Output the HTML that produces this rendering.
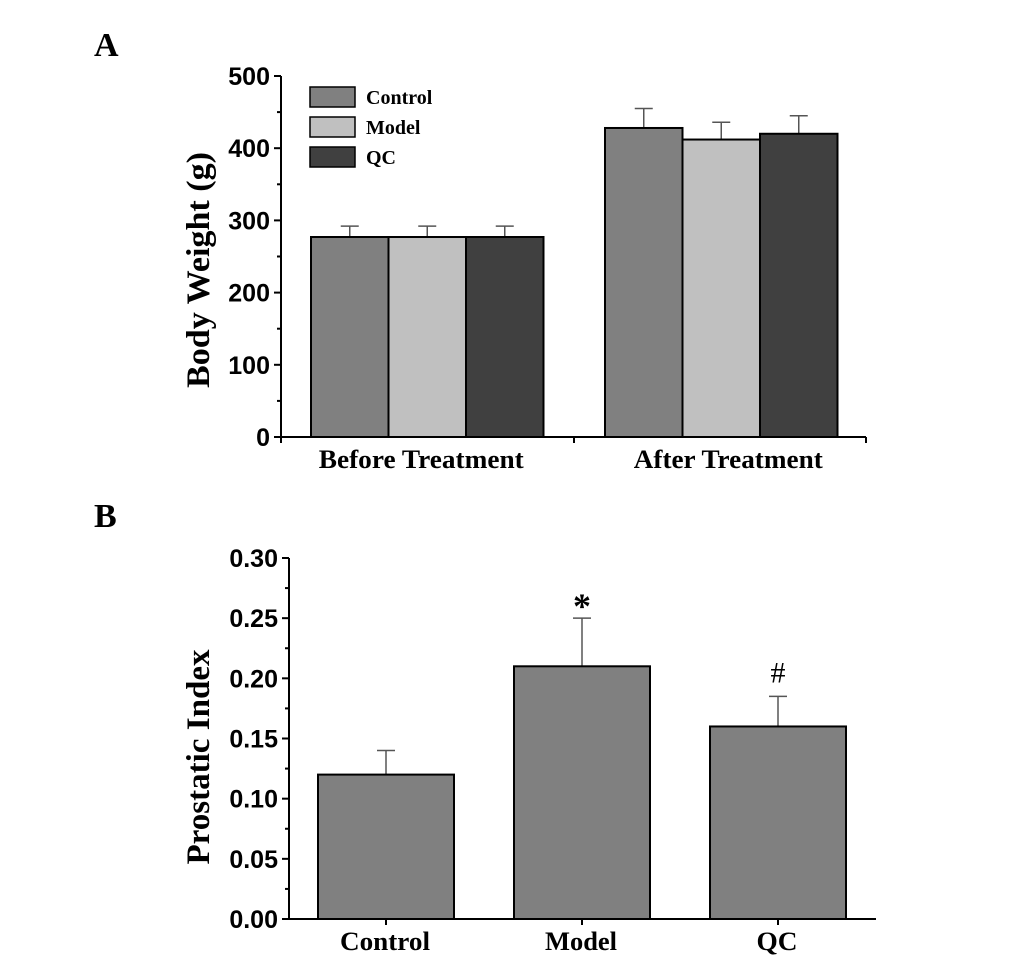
<!DOCTYPE html>
<html><head><meta charset="utf-8"><style>body{margin:0;background:#fff}svg{display:block}</style></head>
<body>
<svg id="s" width="1033" height="962" xmlns="http://www.w3.org/2000/svg">
<text x="94" y="56" font-family="Liberation Serif" font-weight="bold" font-size="34">A</text>
<text x="94" y="527" font-family="Liberation Serif" font-weight="bold" font-size="34">B</text>
<g id="ga"></g>
<g id="gb"></g>
</svg>
<script>
const aGroups=["Before Treatment","After Treatment"];
const aSeries=["Control","Model","QC"];
const aColors=["#808080","#c0c0c0","#404040"];
const aValues=[[277,277,277],[428,412,420]];
const aErrors=[[15,15,15],[27,24,25]];
const aTicks=[0,100,200,300,400,500];
const bCats=["Control","Model","QC"];
const bValues=[0.12,0.21,0.16];
const bErrors=[0.02,0.04,0.025];
const bMarks=["","*","#"];
const bTicks=["0.00","0.05","0.10","0.15","0.20","0.25","0.30"];
const NS="http://www.w3.org/2000/svg";
function mk(p,t,a){const e=document.createElementNS(NS,t);for(const k in a)e.setAttribute(k,a[k]);p.appendChild(e);return e;}
const ga=document.getElementById('ga'),gb=document.getElementById('gb');
const EC='#555';
// chart A
const ay=v=>437-v*(361/500);
const ax0=281;
let e=mk(ga,'line',{x1:ax0,y1:ay(500),x2:ax0,y2:437,stroke:'#000','stroke-width':2});

e=mk(ga,'line',{x1:ax0,y1:437,x2:866,y2:437,stroke:'#000','stroke-width':2});

aTicks.forEach(t=>{
 mk(ga,'line',{x1:ax0-7,y1:ay(t),x2:ax0,y2:ay(t),stroke:'#000','stroke-width':2});
 if(t<500)mk(ga,'line',{x1:ax0-4,y1:ay(t+50),x2:ax0,y2:ay(t+50),stroke:'#000','stroke-width':2});
 e=mk(ga,'text',{x:ax0-11,y:ay(t)+9,'text-anchor':'end','font-family':'Liberation Sans','font-weight':'bold','font-size':25});
 e.textContent=t;
});
[281,574,866].forEach(x=>mk(ga,'line',{x1:x,y1:437,x2:x,y2:443,stroke:'#000','stroke-width':2}));
e=mk(ga,'text',{x:0,y:0,transform:'translate(209,270) rotate(-90)','text-anchor':'middle','font-family':'Liberation Serif','font-weight':'bold','font-size':33,textLength:236,lengthAdjust:'spacingAndGlyphs'});
e.textContent='Body Weight (g)';
const aStart=[311,605],bw=77.5;
const aLabW=[205,189];
aGroups.forEach((g,gi)=>{
 aSeries.forEach((s,si)=>{
  const x=aStart[gi]+si*bw,v=aValues[gi][si],er=aErrors[gi][si],cx=x+bw/2;
  mk(ga,'line',{x1:cx,y1:ay(v),x2:cx,y2:ay(v+er),stroke:EC,'stroke-width':1.5});
  mk(ga,'line',{x1:cx-9,y1:ay(v+er),x2:cx+9,y2:ay(v+er),stroke:EC,'stroke-width':1.5});
  e=mk(ga,'rect',{x:x,y:ay(v),width:bw,height:437-ay(v),fill:aColors[si],stroke:'#000','stroke-width':2});
  
 });
 e=mk(ga,'text',{x:aStart[gi]+bw*1.5+(gi?7:-6),y:468,'text-anchor':'middle','font-family':'Liberation Serif','font-weight':'bold','font-size':26,textLength:aLabW[gi],lengthAdjust:'spacingAndGlyphs'});
 e.textContent=g;
});
aSeries.forEach((s,si)=>{
 const y=87+si*30;
 e=mk(ga,'rect',{x:310,y:y,width:45,height:20,fill:aColors[si],stroke:'#000','stroke-width':1.5});
 
 e=mk(ga,'text',{x:366,y:y+17,'font-family':'Liberation Serif','font-weight':'bold','font-size':20});
 e.textContent=s;
});
// chart B
const by=v=>919-v*(361/0.30);
const bx0=289;
e=mk(gb,'line',{x1:bx0,y1:by(0.30),x2:bx0,y2:919,stroke:'#000','stroke-width':2});

e=mk(gb,'line',{x1:bx0,y1:919,x2:876,y2:919,stroke:'#000','stroke-width':2});

bTicks.forEach((t,i)=>{
 const v=parseFloat(t);
 mk(gb,'line',{x1:bx0-7,y1:by(v),x2:bx0,y2:by(v),stroke:'#000','stroke-width':2});
 if(i<bTicks.length-1)mk(gb,'line',{x1:bx0-4,y1:by(v+0.025),x2:bx0,y2:by(v+0.025),stroke:'#000','stroke-width':2});
 e=mk(gb,'text',{x:bx0-11,y:by(v)+9,'text-anchor':'end','font-family':'Liberation Sans','font-weight':'bold','font-size':25});
 e.textContent=t;
});
e=mk(gb,'text',{x:0,y:0,transform:'translate(209,757) rotate(-90)','text-anchor':'middle','font-family':'Liberation Serif','font-weight':'bold','font-size':33,textLength:215,lengthAdjust:'spacingAndGlyphs'});
e.textContent='Prostatic Index';
const bLabW=[90,72,41];
bCats.forEach((c,i)=>{
 const x=318+i*196,w=136,v=bValues[i],er=bErrors[i],cx=x+w/2;
 mk(gb,'line',{x1:cx,y1:by(v),x2:cx,y2:by(v+er),stroke:EC,'stroke-width':1.5});
 mk(gb,'line',{x1:cx-9,y1:by(v+er),x2:cx+9,y2:by(v+er),stroke:EC,'stroke-width':1.5});
 e=mk(gb,'rect',{x:x,y:by(v),width:w,height:919-by(v),fill:'#808080',stroke:'#000','stroke-width':2});
 
 mk(gb,'line',{x1:cx,y1:919,x2:cx,y2:925,stroke:'#000','stroke-width':2});
 e=mk(gb,'text',{x:cx-1,y:950,'text-anchor':'middle','font-family':'Liberation Serif','font-weight':'bold','font-size':26,textLength:bLabW[i],lengthAdjust:'spacingAndGlyphs'});
 e.textContent=c;
 if(bMarks[i]){
  const star=bMarks[i]=='*';
  e=mk(gb,'text',{x:cx,y:by(v+er)-(star?0:14),'text-anchor':'middle','font-family':'Liberation Serif','font-weight':star?'bold':'normal','font-size':star?36:30});
  e.textContent=bMarks[i];
 }
});
</script>
</body></html>
